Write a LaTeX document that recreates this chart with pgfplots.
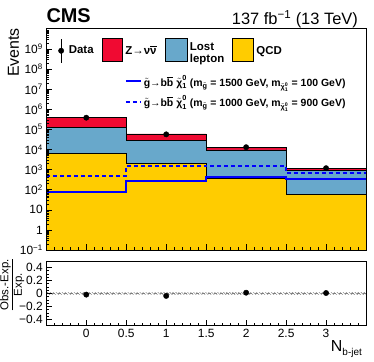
\documentclass[border=0pt]{standalone}
\usepackage{fontspec}
\setmainfont{Liberation Sans}
\usepackage{amsmath}
\usepackage{pgfplots}
\usepackage{pgfplotstable}
\pgfplotsset{compat=1.18}
\usetikzlibrary{patterns}

\definecolor{zred}{RGB}{240,10,50}
\definecolor{llblue}{RGB}{104,168,203}
\definecolor{qcdyel}{RGB}{255,204,0}
\definecolor{sigblue}{RGB}{0,0,255}

% cumulative stack tops (QCD, +lost lepton, +Z->nunu), bin edges
\pgfplotstableread{
x    qcd   ll      tot
-0.5 6200  120000  390000
0.5  2000  29000   59000
1.5  375   9500    12900
2.5  56    890     1170
3.5  56    890     1170
}\stack

\pgfplotstableread{
x    s1500 s1000
-0.5 81    470
0.5  276   1480
1.5  420   1500
2.5  333   660
3.5  333   660
}\signal

\pgfplotstableread{
x  obs     ratio
0  382000  -0.02
1  56600   -0.04
2  13000   0.01
3  1176    0.005
}\data

\newcommand\sig[2]{$\tilde{\text{g}}$→b$\overline{\text{b}}$\ $\tilde{\text{χ}}^{\text{0}}_{\text{1}}$ (m$_{\tilde{\text{g}}}$ = #1 GeV, m$_{\tilde{\text{χ}}^{\text{0}}_{\text{1}}}$ = #2 GeV)}
\newcommand\boxleg[1]{\draw[fill=#1, draw=black, line width=0.8pt] (0pt,-11pt) rectangle (20pt,12pt);}

\pgfplotsset{
  cmsaxis/.style={
    scale only axis, width=321pt, xmin=-0.5, xmax=3.5,
    xtick={-0.5,0,0.5,1,1.5,2,2.5,3,3.5}, minor x tick num=4,
    tick pos=left, tick align=inside, axis on top,
    major tick length=6pt, minor tick length=3pt,
    every tick/.style={black, line width=0.5pt},
    axis line style={line width=0.8pt},
    ticklabel style={font=\fontsize{12}{14}\selectfont},
  },
}

\begin{document}
\begin{tikzpicture}
\path (-45pt,-112pt) rectangle (329pt,251pt);

\begin{axis}[cmsaxis, name=top, at={(0pt,0pt)}, anchor=south west, height=222pt,
  ymode=log, ymin=0.1, ymax=1e10, log origin y=infty, xticklabels={},
  ytick={1e-1,1,10,1e2,1e3,1e4,1e5,1e6,1e7,1e8,1e9},
  yticklabels={10\textsuperscript{−1},1,10,10\textsuperscript{2},10\textsuperscript{3},10\textsuperscript{4},10\textsuperscript{5},10\textsuperscript{6},10\textsuperscript{7},10\textsuperscript{8},10\textsuperscript{9}},
  minor ytick={2e-1,3e-1,4e-1,5e-1,6e-1,7e-1,8e-1,9e-1,
    2,3,4,5,6,7,8,9, 20,30,40,50,60,70,80,90,
    2e2,3e2,4e2,5e2,6e2,7e2,8e2,9e2, 2e3,3e3,4e3,5e3,6e3,7e3,8e3,9e3,
    2e4,3e4,4e4,5e4,6e4,7e4,8e4,9e4, 2e5,3e5,4e5,5e5,6e5,7e5,8e5,9e5,
    2e6,3e6,4e6,5e6,6e6,7e6,8e6,9e6, 2e7,3e7,4e7,5e7,6e7,7e7,8e7,9e7,
    2e8,3e8,4e8,5e8,6e8,7e8,8e8,9e8, 2e9,3e9,4e9,5e9,6e9,7e9,8e9,9e9},
  legend style={draw=none, fill=none, anchor=west,
    at={(axis description cs:0.0374,0.901)}, legend columns=4,
    font=\bfseries\fontsize{11.5}{13}\selectfont, inner sep=0pt,
    nodes={inner sep=0pt}, column sep=0pt},
  legend cell align=left,
]
\addlegendimage{legend image code/.code={
  \draw[black, line width=0.8pt] (5pt,-12pt) -- (5pt,12pt);
  \draw[black, only marks, mark=*, mark size=2.7pt] plot coordinates {(5pt,0pt)};}}
\addlegendentry{\makebox[38pt][l]{\hspace{5pt}Data}}
\addlegendimage{legend image code/.code={\boxleg{zred}}}
\addlegendentry{\makebox[43pt][l]{\hspace{3pt}Z→ν$\overline{\text{ν}}$}}
\addlegendimage{legend image code/.code={\draw[fill=llblue, draw=black, line width=0.8pt] (0pt,-11pt) rectangle (22pt,12pt);}}
\addlegendentry{\makebox[44pt][l]{\hspace{2pt}{\def\arraystretch{0.9}\begin{tabular}[c]{@{}l@{}}Lost\\lepton\end{tabular}}}}
\addlegendimage{legend image code/.code={\draw[fill=qcdyel, draw=black, line width=0.8pt] (0pt,-11pt) rectangle (21pt,12pt);}}
\addlegendentry{\makebox[30pt][l]{\hspace{3pt}QCD}}

\addplot[forget plot, const plot, fill=zred, draw=black, line width=0.8pt] table[x=x, y=tot]{\stack} \closedcycle;
\addplot[forget plot, const plot, fill=llblue, draw=black, line width=0.8pt] table[x=x, y=ll]{\stack} \closedcycle;
\addplot[forget plot, const plot, fill=qcdyel, draw=black, line width=0.8pt] table[x=x, y=qcd]{\stack} \closedcycle;
\addplot[forget plot, const plot, sigblue, line width=2pt, dash pattern=on 4pt off 3pt] table[x=x, y=s1000]{\signal};
\addplot[forget plot, const plot, sigblue, line width=2pt] table[x=x, y=s1500]{\signal};
\addplot[forget plot, only marks, mark=*, mark size=2.7pt, black] table[x=x, y=obs]{\data};
\end{axis}

% signal legend
\begin{axis}[scale only axis, at={(0pt,0pt)}, anchor=south west, width=321pt, height=222pt,
  hide axis, xmin=0, xmax=1, ymin=0, ymax=1,
  legend style={draw=none, fill=none, anchor=north west,
    at={(axis description cs:0.245,0.80)}, legend columns=1,
    font=\bfseries\fontsize{10.5}{12}\selectfont, inner sep=0pt,
    row sep=4pt},
  legend cell align=left,
  legend image code/.code={\draw[#1] (0pt,0pt) -- (15pt,0pt);},
]
\addlegendimage{sigblue, line width=2pt}
\addlegendentry{\sig{1500}{100}}
\addlegendimage{sigblue, line width=2pt, dash pattern=on 4pt off 3pt}
\addlegendentry{\sig{1000}{900}}
\end{axis}

\begin{axis}[cmsaxis, name=bot, at={(0pt,-11pt)}, anchor=north west, height=65pt,
  ymin=-0.5, ymax=0.5,
  xticklabels={,0,0.5,1,1.5,2,2.5,3,},
  ytick={-0.4,-0.2,0,0.2,0.4}, yticklabels={−0.4,−0.2,0,0.2,0.4},
  minor y tick num=3,
]
\addplot[draw=none, pattern=north west lines, pattern color=gray] coordinates {(-0.5,-0.012) (3.5,-0.012) (3.5,0.012) (-0.5,0.012)} -- cycle;
\addplot[gray, dashed, line width=0.5pt] coordinates {(-0.5,0) (3.5,0)};
\addplot[only marks, mark=*, mark size=2.7pt, black] table[x=x, y=ratio]{\data};
\end{axis}

\node[anchor=base west, inner sep=0pt, font=\bfseries\fontsize{20}{22}\selectfont] at (0pt,228pt) {CMS};
\node[anchor=base east, inner sep=0pt, font=\fontsize{16.5}{18}\selectfont] at (313pt,226pt) {137 fb\textsuperscript{−1} (13 TeV)};
\node[rotate=90, anchor=east, inner sep=0pt, font=\fontsize{16}{18}\selectfont] at (-33pt,223pt) {Events};
\node[rotate=90, inner sep=0pt, font=\fontsize{11.5}{13}\selectfont] at (-34pt,-35pt)
  {\def\arraystretch{0.8}\begin{tabular}{@{}c@{}}Obs.-Exp.\\[1pt]\hline\rule{0pt}{9pt}Exp.\end{tabular}};
\node[anchor=base east, inner sep=0pt, font=\fontsize{16}{18}\selectfont] at (317pt,-102pt) {N\raisebox{-4pt}{\fontsize{10}{11}\selectfont b-jet}};
\end{tikzpicture}
\end{document}
